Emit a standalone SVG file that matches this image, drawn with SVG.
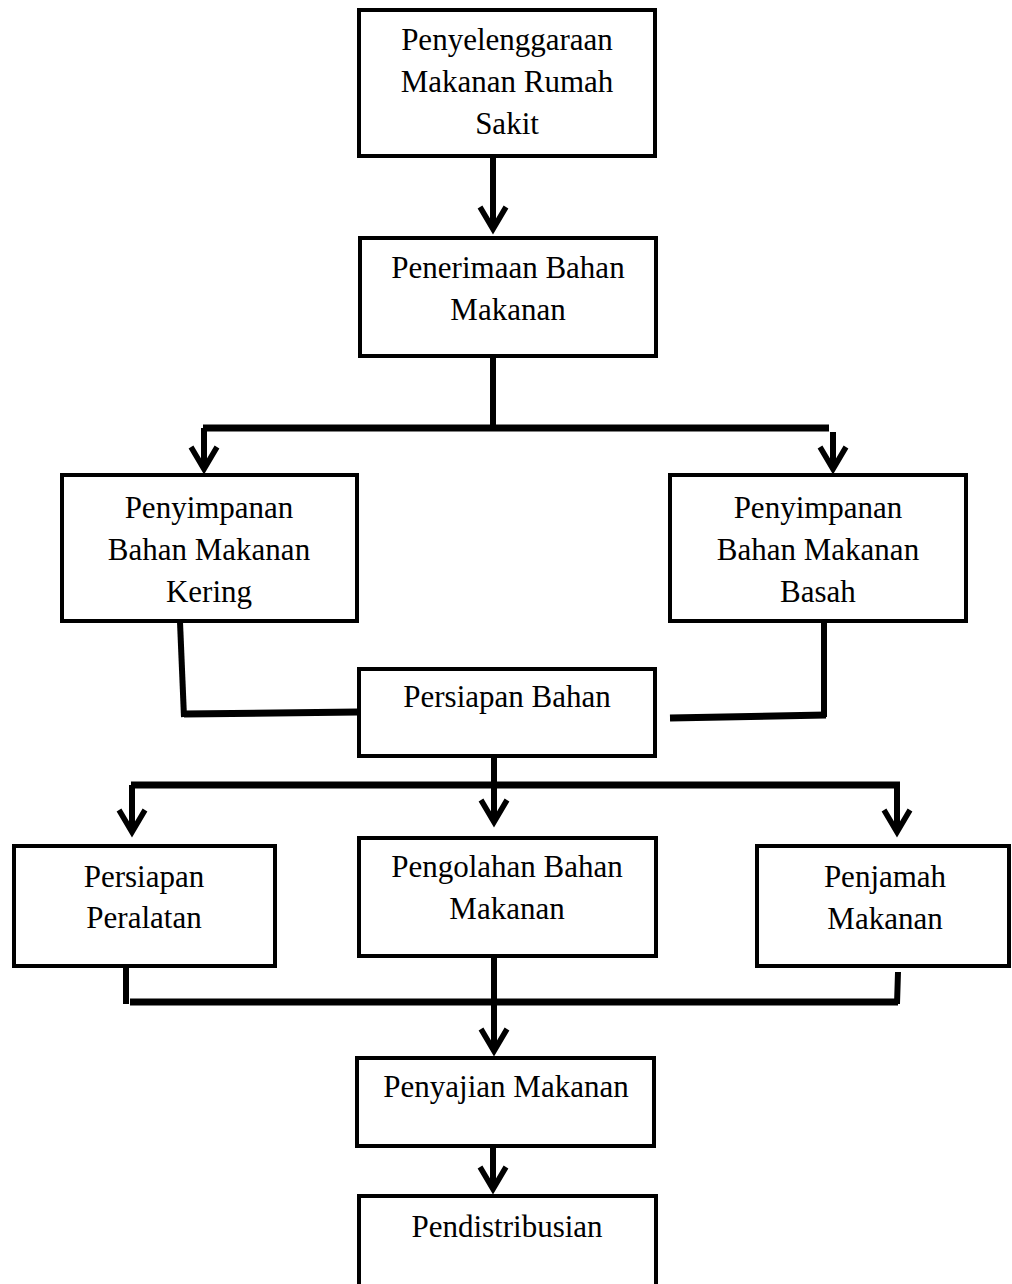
<svg xmlns="http://www.w3.org/2000/svg" width="1012" height="1284" viewBox="0 0 1012 1284">
<defs>
<style>
.box{fill:#fff;stroke:#000;stroke-width:4}
.t{font-family:"Liberation Serif","Times New Roman",serif;font-size:31px;fill:#000;text-anchor:middle}
.c{fill:none;stroke:#000;stroke-width:6;stroke-linecap:butt}
.h{fill:none;stroke:#000;stroke-width:7}
.ah{fill:none;stroke:#000;stroke-width:5.5;stroke-linejoin:miter}
</style>
<path id="ah" class="ah" d="M-13,-27 L0,-5 L13,-27"/>
</defs>
<rect width="1012" height="1284" fill="#fff"/>
<g id="connectors">
<line class="c" x1="493" y1="156" x2="493" y2="228"/>
<use href="#ah" x="493" y="234"/>
<line class="c" x1="493" y1="358" x2="493" y2="430"/>
<line class="h" x1="203" y1="428" x2="829" y2="428"/>
<line class="c" x1="204" y1="428" x2="204" y2="468"/>
<use href="#ah" x="204" y="474"/>
<line class="c" x1="833" y1="432" x2="833" y2="468"/>
<use href="#ah" x="833" y="474"/>
<line class="c" x1="180" y1="622" x2="184" y2="717"/>
<line class="h" x1="184" y1="714" x2="358" y2="712"/>
<line class="c" x1="824" y1="622" x2="824" y2="717"/>
<line class="h" x1="826" y1="715" x2="670" y2="718"/>
<line class="c" x1="494" y1="757" x2="494" y2="821"/>
<line class="h" x1="131" y1="785" x2="900" y2="785"/>
<use href="#ah" x="494" y="827"/>
<line class="c" x1="132" y1="785" x2="132" y2="831"/>
<use href="#ah" x="132" y="837"/>
<line class="c" x1="897" y1="788" x2="897" y2="831"/>
<use href="#ah" x="897" y="837"/>
<line class="c" x1="126" y1="967" x2="126" y2="1004"/>
<line class="h" x1="130" y1="1002" x2="898" y2="1002"/>
<line class="c" x1="898" y1="972" x2="897" y2="1004"/>
<line class="c" x1="494" y1="957" x2="494" y2="1050"/>
<use href="#ah" x="494" y="1056"/>
<line class="c" x1="493" y1="1147" x2="493" y2="1188"/>
<use href="#ah" x="493" y="1194"/>
</g>
<g id="n1"><rect class="box" x="359" y="10" width="296" height="146"/>
<text class="t" x="507" y="50">Penyelenggaraan</text><text class="t" x="507" y="92">Makanan Rumah</text><text class="t" x="507" y="134">Sakit</text></g>
<g id="n2"><rect class="box" x="360" y="238" width="296" height="118"/>
<text class="t" x="508" y="278">Penerimaan Bahan</text><text class="t" x="508" y="320">Makanan</text></g>
<g id="n3"><rect class="box" x="62" y="475" width="295" height="146"/>
<text class="t" x="209" y="518">Penyimpanan</text><text class="t" x="209" y="560">Bahan Makanan</text><text class="t" x="209" y="602">Kering</text></g>
<g id="n4"><rect class="box" x="670" y="475" width="296" height="146"/>
<text class="t" x="818" y="518">Penyimpanan</text><text class="t" x="818" y="560">Bahan Makanan</text><text class="t" x="818" y="602">Basah</text></g>
<g id="n5"><rect class="box" x="359" y="669" width="296" height="87"/>
<text class="t" x="507" y="707">Persiapan Bahan</text></g>
<g id="n6"><rect class="box" x="14" y="846" width="261" height="120"/>
<text class="t" x="144" y="887">Persiapan</text><text class="t" x="144" y="928">Peralatan</text></g>
<g id="n7"><rect class="box" x="359" y="838" width="297" height="118"/>
<text class="t" x="507" y="877">Pengolahan Bahan</text><text class="t" x="507" y="919">Makanan</text></g>
<g id="n8"><rect class="box" x="757" y="846" width="252" height="120"/>
<text class="t" x="885" y="887">Penjamah</text><text class="t" x="885" y="929">Makanan</text></g>
<g id="n9"><rect class="box" x="357" y="1058" width="297" height="88"/>
<text class="t" x="506" y="1097">Penyajian Makanan</text></g>
<g id="n10"><rect class="box" x="359" y="1196" width="297" height="110"/>
<text class="t" x="507" y="1237">Pendistribusian</text></g>
</svg>
